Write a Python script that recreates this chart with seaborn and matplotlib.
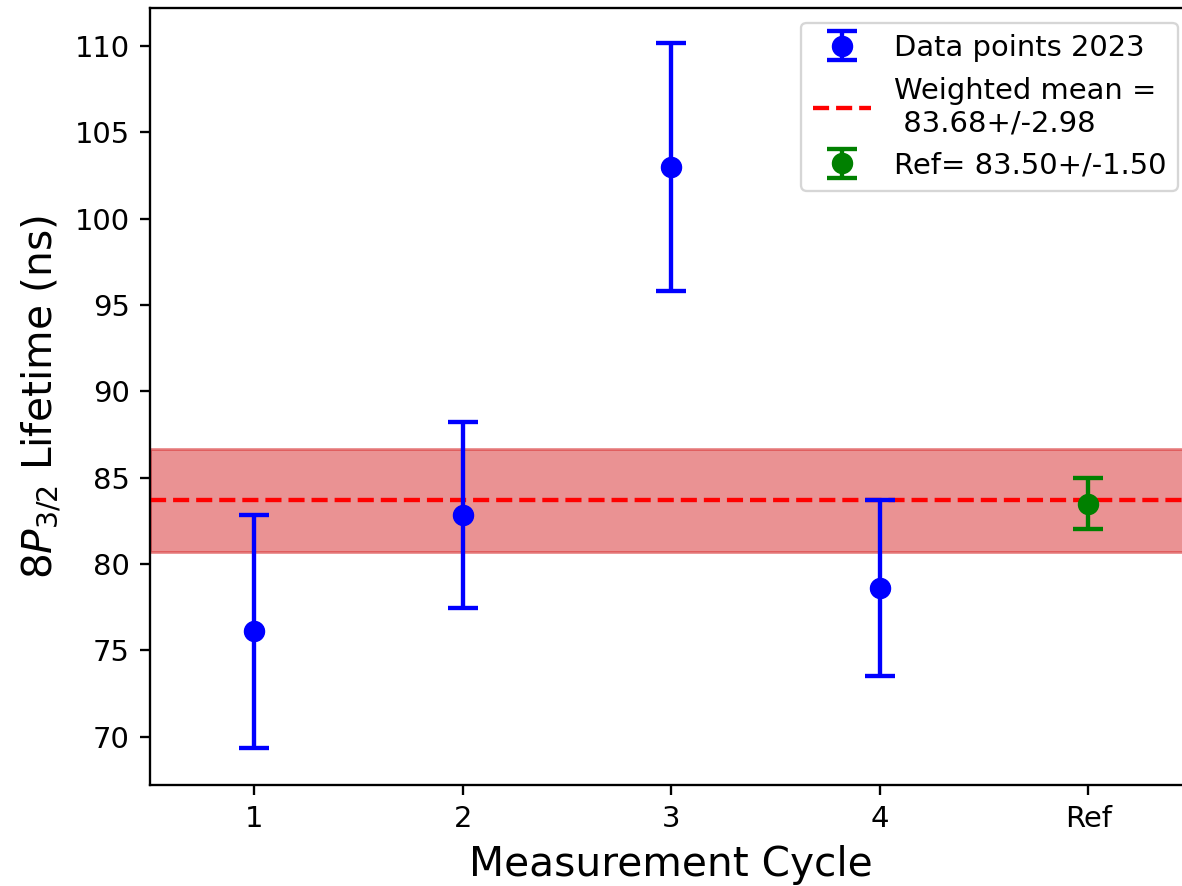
import matplotlib
matplotlib.use("Agg")
import matplotlib.pyplot as plt
import seaborn as sns
import numpy as np

# data
cycles = [1, 2, 3, 4]
lifetimes = [76.1, 82.85, 103.0, 78.6]
errors = [6.75, 5.4, 7.2, 5.1]
ref_x = [5]
ref_value = [83.5]
ref_error = [1.5]
wmean = 83.68
wmean_err = 2.98
tick_labels = ["1", "2", "3", "4", "Ref"]

sns.set_style("ticks")
plt.rcParams.update({
    "font.family": ["DejaVu Sans"],
    "axes.edgecolor": "black",
    "xtick.color": "black",
    "ytick.color": "black",
    "text.color": "black",
    "axes.labelcolor": "black",
})

s = 2.09  # scale factor vs default sizes
W, H = 1182, 886
fig = plt.figure(figsize=(W / 100, H / 100), dpi=100)
ax = fig.add_axes([150 / W, 101 / H, (1192.5 - 150) / W, (878 - 101) / H])

ax.axhspan(wmean - wmean_err, wmean + wmean_err, color="#d62728", alpha=0.5, lw=1.0 * s, zorder=1)
hline = ax.axhline(wmean, color="red", ls="--", lw=1.5 * s, zorder=2,
                   label=f"Weighted mean =\n {wmean:.2f}+/-{wmean_err:.2f}")

eb = ax.errorbar(cycles, lifetimes, yerr=errors, fmt="o", color="blue", ms=6.9 * s,
                 elinewidth=1.5 * s, capsize=5 * s, capthick=1.5 * s, zorder=3,
                 label="Data points 2023")
sns.scatterplot(x=cycles, y=lifetimes, ax=ax, color="blue", s=(6.9 * s) ** 2,
                edgecolor="blue", linewidth=0, legend=False, zorder=4)

eb2 = ax.errorbar(ref_x, ref_value, yerr=ref_error, fmt="o", color="green", ms=6.9 * s,
                  elinewidth=1.5 * s, capsize=5 * s, capthick=1.5 * s, zorder=3,
                  label=f"Ref= {ref_value[0]:.2f}+/-{ref_error[0]:.2f}")

ax.set_xlim(0.5, 5.5)
ax.set_ylim(67.2, 112.2)
ax.set_xticks([1, 2, 3, 4, 5])
ax.set_xticklabels(tick_labels)
ax.set_yticks([70, 75, 80, 85, 90, 95, 100, 105, 110])
ax.tick_params(labelsize=10 * s, length=3.5 * s, width=0.8 * s, pad=3.5 * s)
for sp in ax.spines.values():
    sp.set_linewidth(0.8 * s)

ax.set_xlabel("Measurement Cycle", fontsize=14 * s, labelpad=4 * s)
ax.set_ylabel("$8P_{3/2}$ Lifetime (ns)", fontsize=14 * s, labelpad=4 * s)

leg = ax.legend([eb, hline, eb2],
                ["Data points 2023", f"Weighted mean =\n {wmean:.2f}+/-{wmean_err:.2f}",
                 f"Ref= {ref_value[0]:.2f}+/-{ref_error[0]:.2f}"],
                loc="upper right", fontsize=10 * s, frameon=True, framealpha=0.8,
                edgecolor="0.8", fancybox=True)
leg.get_frame().set_linewidth(0.8 * s)

fig.savefig("out.png", dpi=100)
